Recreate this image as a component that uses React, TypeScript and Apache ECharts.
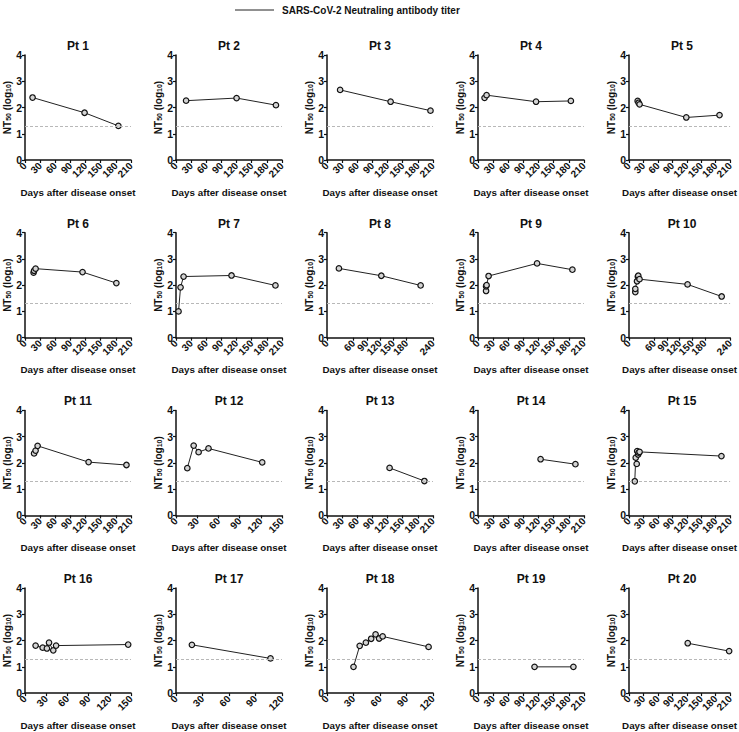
import React, { useEffect, useRef } from 'react';
import * as echarts from 'echarts';

const FONT = "'Liberation Sans', Arial, sans-serif";

const legendLabel = 'SARS-CoV-2 Neutraling antibody titer';
const xAxisTitle = 'Days after disease onset';
const lodTiter = 1.3;
const yTicks = [0, 1, 2, 3, 4];
const xTickStep = 30;

const panelNames = ['Pt 1', 'Pt 2', 'Pt 3', 'Pt 4', 'Pt 5', 'Pt 6', 'Pt 7', 'Pt 8', 'Pt 9', 'Pt 10',
  'Pt 11', 'Pt 12', 'Pt 13', 'Pt 14', 'Pt 15', 'Pt 16', 'Pt 17', 'Pt 18', 'Pt 19', 'Pt 20'];
const xMaxes = [210, 210, 210, 210, 210, 210, 210, 240, 210, 240,
  210, 150, 210, 210, 210, 150, 120, 120, 210, 210];

const pt1Days = [15, 118, 185];
const pt1Titer = [2.38, 1.8, 1.3];
const pt2Days = [20, 120, 198];
const pt2Titer = [2.26, 2.36, 2.09];
const pt3Days = [26, 126, 205];
const pt3Titer = [2.67, 2.22, 1.88];
const pt4Days = [13, 17, 115, 184];
const pt4Titer = [2.37, 2.47, 2.22, 2.25];
const pt5Days = [18, 20, 22, 119, 188];
const pt5Titer = [2.25, 2.18, 2.12, 1.62, 1.71];
const pt6Days = [17, 18, 21, 114, 181];
const pt6Titer = [2.48, 2.55, 2.63, 2.5, 2.08];
const pt7Days = [5, 9, 15, 110, 197];
const pt7Titer = [1.0, 1.92, 2.33, 2.37, 1.99];
const pt8Days = [27, 123, 212];
const pt8Titer = [2.64, 2.36, 1.99];
const pt9Days = [16, 16, 17, 21, 117, 187];
const pt9Titer = [1.78, 1.96, 2.0, 2.35, 2.83, 2.59];
const pt10Days = [15, 15, 19, 21, 22, 25, 139, 220];
const pt10Titer = [1.74, 1.86, 2.15, 2.33, 2.36, 2.23, 2.03, 1.57];
const pt11Days = [18, 21, 25, 126, 201];
const pt11Titer = [2.36, 2.47, 2.65, 2.03, 1.92];
const pt12Days = [16, 25, 32, 46, 122];
const pt12Titer = [1.8, 2.66, 2.41, 2.55, 2.02];
const pt13Days = [124, 193];
const pt13Titer = [1.81, 1.31];
const pt14Days = [124, 193];
const pt14Titer = [2.14, 1.95];
const pt15Days = [12, 14, 16, 17, 19, 20, 22, 192];
const pt15Titer = [1.3, 2.2, 1.96, 2.45, 2.32, 2.39, 2.42, 2.26];
const pt16Days = [15, 25, 31, 34, 40, 44, 146];
const pt16Titer = [1.81, 1.73, 1.7, 1.92, 1.63, 1.81, 1.85];
const pt17Days = [18, 107];
const pt17Titer = [1.84, 1.32];
const pt18Days = [30, 37, 44, 50, 55, 59, 63, 115];
const pt18Titer = [1.0, 1.8, 1.92, 2.07, 2.24, 2.08, 2.16, 1.76];
const pt19Days = [112, 189];
const pt19Titer = [1.0, 1.0];
const pt20Days = [122, 208];
const pt20Titer = [1.9, 1.6];

const allDays = [pt1Days, pt2Days, pt3Days, pt4Days, pt5Days, pt6Days, pt7Days, pt8Days, pt9Days, pt10Days,
  pt11Days, pt12Days, pt13Days, pt14Days, pt15Days, pt16Days, pt17Days, pt18Days, pt19Days, pt20Days];
const allTiters = [pt1Titer, pt2Titer, pt3Titer, pt4Titer, pt5Titer, pt6Titer, pt7Titer, pt8Titer, pt9Titer, pt10Titer,
  pt11Titer, pt12Titer, pt13Titer, pt14Titer, pt15Titer, pt16Titer, pt17Titer, pt18Titer, pt19Titer, pt20Titer];

export default function App() {
  const ref = useRef<HTMLDivElement>(null);

  useEffect(() => {
    if (!ref.current) return;
    const chart = echarts.init(ref.current, undefined, { renderer: 'svg' });

    const grids: any[] = [];
    const xAxes: any[] = [];
    const yAxes: any[] = [];
    const series: any[] = [];
    const graphics: any[] = [];

    const plotW = 106;
    const plotH = 105;

    panelNames.forEach((name, i) => {
      const col = i % 5;
      const row = Math.floor(i / 5);
      const left = 25 + col * 151;
      const top = 55 + row * 177.7;
      grids.push({ left, top, width: plotW, height: plotH });
      xAxes.push({
        type: 'value',
        gridIndex: i,
        min: 0,
        max: xMaxes[i],
        interval: xTickStep,
        name: xAxisTitle,
        nameLocation: 'middle',
        nameGap: 27,
        nameTextStyle: { fontFamily: FONT, fontWeight: 'bold', fontSize: 9.8, color: '#111' },
        axisLine: { show: true, onZero: false, lineStyle: { color: '#111', width: 1.5 } },
        axisTick: { show: true, length: 3, lineStyle: { color: '#111', width: 1.2 } },
        axisLabel: { rotate: 45, fontSize: 10, fontWeight: 'bold', fontFamily: FONT, color: '#111', margin: 4, showMinLabel: true, showMaxLabel: true, hideOverlap: false },
        splitLine: { show: false },
      });
      yAxes.push({
        type: 'value',
        gridIndex: i,
        min: yTicks[0],
        max: yTicks[yTicks.length - 1],
        interval: 1,
        name: '{a|NT}{b|50}{a| (log}{b|10}{a|)}',
        nameLocation: 'middle',
        nameRotate: 90,
        nameGap: 10,
        nameTextStyle: {
          rich: {
            a: { fontFamily: FONT, fontWeight: 'bold', fontSize: 10, color: '#111', lineHeight: 13, verticalAlign: 'bottom' },
            b: { fontFamily: FONT, fontWeight: 'bold', fontSize: 7, color: '#111', lineHeight: 8, verticalAlign: 'bottom' },
          },
        },
        axisLine: { show: true, onZero: false, lineStyle: { color: '#111', width: 1.5 } },
        axisTick: { show: true, length: 3, lineStyle: { color: '#111', width: 1.2 } },
        axisLabel: { fontSize: 10.5, fontWeight: 'bold', fontFamily: FONT, color: '#111', margin: 3 },
        splitLine: { show: false },
      });
      series.push({
        type: 'line',
        name: legendLabel,
        xAxisIndex: i,
        yAxisIndex: i,
        data: allDays[i].map((d, k) => [d, allTiters[i][k]]),
        symbol: 'circle',
        symbolSize: 5.5,
        showSymbol: true,
        lineStyle: { color: '#222', width: 1 },
        itemStyle: { color: '#d4d4d4', borderColor: '#111', borderWidth: 1.2 },
        markLine: {
          silent: true,
          symbol: ['none', 'none'],
          label: { show: false },
          lineStyle: { color: '#b8b8b8', type: [3, 2], width: 1 },
          data: [{ yAxis: lodTiter }],
        },
      });
      graphics.push({
        type: 'text',
        x: left + plotW / 2,
        y: top - 9,
        style: { text: name, fontFamily: FONT, fontWeight: 'bold', fontSize: 12, fill: '#111', textAlign: 'center', textVerticalAlign: 'middle' },
      });
    });

    graphics.push({
      type: 'line',
      shape: { x1: 235, y1: 10, x2: 274, y2: 10 },
      style: { stroke: '#222', lineWidth: 1 },
    });
    graphics.push({
      type: 'text',
      x: 282,
      y: 10,
      style: { text: legendLabel, fontFamily: FONT, fontWeight: 'bold', fontSize: 10, fill: '#111', textAlign: 'left', textVerticalAlign: 'middle' },
    });

    chart.setOption({
      animation: false,
      backgroundColor: '#fff',
      grid: grids,
      xAxis: xAxes,
      yAxis: yAxes,
      series,
      graphic: graphics,
    });

    return () => chart.dispose();
  }, []);

  return <div ref={ref} style={{ position: 'fixed', left: 0, top: 0, width: 739, height: 732 }} />;
}
